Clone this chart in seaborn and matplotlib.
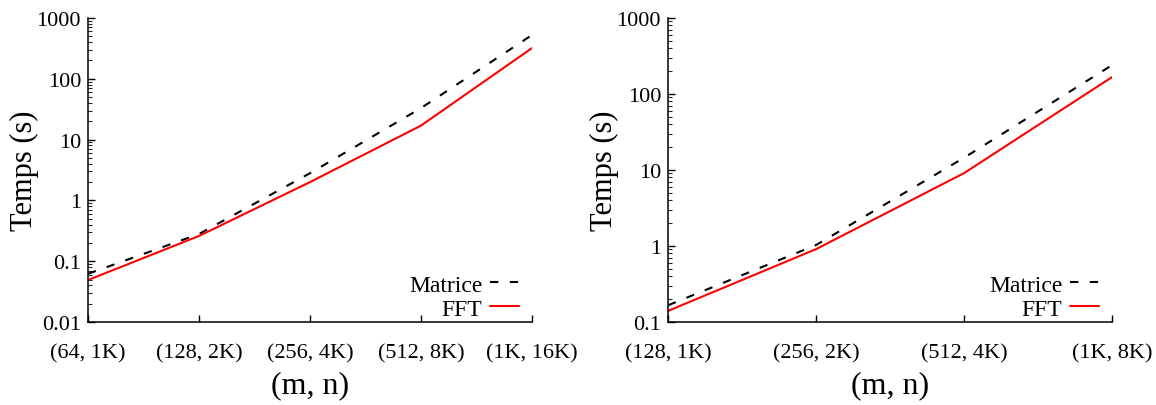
import pandas as pd
import matplotlib.pyplot as plt
import seaborn as sns

# Data
sizes_left = ["(64, 1K)", "(128, 2K)", "(256, 4K)", "(512, 8K)", "(1K, 16K)"]
matrice_left = [0.062, 0.28, 2.8, 33, 525]
fft_left = [0.049, 0.26, 2.0, 17, 320]

sizes_right = ["(128, 1K)", "(256, 2K)", "(512, 4K)", "(1K, 8K)"]
matrice_right = [0.166, 1.03, 14.5, 240]
fft_right = [0.14, 0.91, 9.1, 167]

sns.set_style("ticks")
plt.rcParams["font.family"] = ["Liberation Serif", "DejaVu Serif"]
plt.rcParams["text.color"] = "black"
plt.rcParams["axes.labelcolor"] = "black"

fig = plt.figure(figsize=(11.56, 4.06), dpi=100)
ax1 = fig.add_axes([0.0761, 0.2044, 0.3841, 0.7488])
ax2 = fig.add_axes([0.5779, 0.2044, 0.3841, 0.7488])


def draw(ax, sizes, matrice, fft, ylim):
    df = pd.DataFrame({"size": sizes, "Matrice": matrice, "FFT": fft})
    sns.lineplot(data=df, x="size", y="Matrice", ax=ax, color="black",
                 linewidth=1.5, label="Matrice", sort=False)
    sns.lineplot(data=df, x="size", y="FFT", ax=ax, color="red",
                 linewidth=1.5, label="FFT", sort=False)
    ax.lines[0].set_dashes((4, 5.5))
    ax.set_yscale("log")
    ax.set_ylim(*ylim)
    ax.set_xlim(0, len(sizes) - 1)
    ax.set_xticks(range(len(sizes)))
    ax.set_xticklabels(sizes)
    ax.yaxis.set_major_formatter(plt.FuncFormatter(lambda v, p: f"{v:g}"))
    ax.tick_params(axis="both", direction="in", labelsize=16, length=5,
                   width=1, colors="black")
    ax.tick_params(axis="x", pad=15)
    ax.tick_params(axis="y", pad=5)
    ax.tick_params(axis="y", which="minor", direction="in", length=3, width=0.8)
    ax.set_xlabel("(m, n)", fontsize=23, labelpad=6)
    ax.set_ylabel("Temps (s)", fontsize=22, labelpad=-2)
    for s in ["top", "right"]:
        ax.spines[s].set_visible(False)
    for s in ["left", "bottom"]:
        ax.spines[s].set_linewidth(1.1)
        ax.spines[s].set_color("black")
    ax.legend(loc="lower right", bbox_to_anchor=(0.971, 0.008), frameon=False,
              markerfirst=False, fontsize=17, handlelength=1.25,
              handletextpad=0.3, labelspacing=0.1, borderaxespad=0,
              borderpad=0, labelcolor="black")


draw(ax1, sizes_left, matrice_left, fft_left, (0.01, 1000))
draw(ax2, sizes_right, matrice_right, fft_right, (0.1, 1000))

fig.savefig("out.png", dpi=100)
